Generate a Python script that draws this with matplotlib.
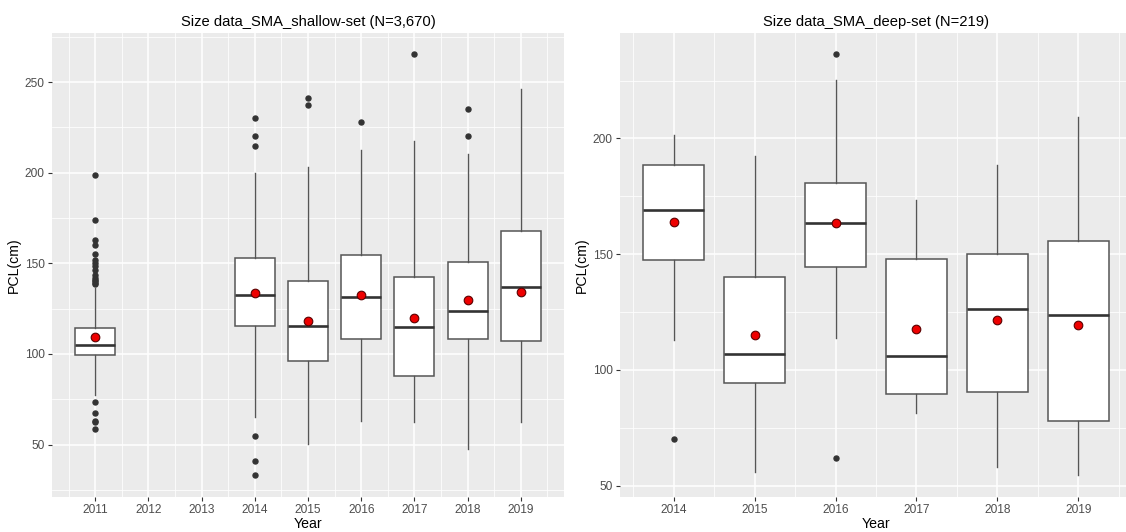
import matplotlib
matplotlib.use("Agg")
import matplotlib.pyplot as plt
from matplotlib.ticker import MultipleLocator, FixedLocator

plt.rcParams["font.family"] = ["Liberation Sans", "DejaVu Sans"]

# ---- shallow-set summary statistics (PCL, cm) ----
shallow_years = [2011, 2014, 2015, 2016, 2017, 2018, 2019]
shallow_q1 = [99.3, 115.2, 96.2, 108.3, 88.1, 108.3, 107.4]
shallow_med = [104.8, 132.6, 115.4, 131.7, 114.7, 123.6, 137.1]
shallow_q3 = [114.3, 153.0, 140.3, 154.5, 142.3, 150.7, 167.8]
shallow_lo = [77.6, 65.5, 50.4, 63.3, 62.3, 47.4, 62.3]
shallow_hi = [136.5, 200.1, 203.3, 212.4, 217.3, 210.4, 246.3]
shallow_mean = [109.2, 133.9, 118.2, 132.8, 119.7, 129.8, 134.3]
shallow_out = [
    [199, 174, 163, 160, 155, 152, 150.4, 148.6, 146.4, 143.5, 142, 141, 140, 139, 138.5,
     73.4, 67.4, 63.3, 62.4, 58.4],
    [230.2, 220.1, 215.0, 55.0, 41.0, 33.0],
    [241.2, 237.3],
    [228.1],
    [265.3],
    [235.2, 220.1],
    [],
]
shallow_ticks = [2011, 2012, 2013, 2014, 2015, 2016, 2017, 2018, 2019]

# ---- deep-set summary statistics (PCL, cm) ----
deep_years = [2014, 2015, 2016, 2017, 2018, 2019]
deep_q1 = [147.4, 94.2, 144.5, 89.6, 90.4, 78.1]
deep_med = [169.1, 107.0, 163.4, 106.0, 126.3, 123.7]
deep_q3 = [188.6, 140.2, 180.7, 147.7, 150.1, 155.6]
deep_lo = [112.7, 55.7, 113.6, 81.5, 58.2, 54.4]
deep_hi = [201.3, 192.2, 225.2, 173.5, 188.4, 209.2]
deep_mean = [163.8, 115.0, 163.5, 117.8, 121.5, 119.4]
deep_out = [[70.2], [], [236.3, 62.0], [], [], []]
deep_ticks = [2014, 2015, 2016, 2017, 2018, 2019]

BOX_W = 0.75
PANEL_BG = "#EBEBEB"
TEXT_GREY = "#4D4D4D"
LINE_GREY = "#333333"


def draw_panel(ax, title, years, q1, med, q3, lo, hi, mean, out, ticks):
    stats = []
    for i in range(len(years)):
        stats.append(dict(q1=q1[i], med=med[i], q3=q3[i], whislo=lo[i], whishi=hi[i],
                          fliers=out[i]))
    ax.bxp(stats, positions=years, widths=BOX_W, patch_artist=True, showcaps=False,
           boxprops=dict(facecolor="white", edgecolor="#555555", linewidth=1.1),
           medianprops=dict(color=LINE_GREY, linewidth=1.9),
           whiskerprops=dict(color="#555555", linewidth=1.0),
           flierprops=dict(marker="o", markerfacecolor=LINE_GREY, markeredgecolor=LINE_GREY,
                           markersize=3.6, linestyle="none"),
           zorder=3)
    ax.plot(years, mean, linestyle="none", marker="o", markersize=6.2,
            markerfacecolor="#EE0000", markeredgecolor="#5A0000", markeredgewidth=0.8,
            zorder=5)

    # ggplot-style continuous scale expansion (5%)
    xlo, xhi = min(years) - BOX_W / 2, max(years) + BOX_W / 2
    xpad = 0.05 * (xhi - xlo)
    ax.set_xlim(xlo - xpad, xhi + xpad)
    vals = lo + hi + [v for o in out for v in o]
    ylo, yhi = min(vals), max(vals)
    ypad = 0.05 * (yhi - ylo)
    ax.set_ylim(ylo - ypad, yhi + ypad)

    ax.set_facecolor(PANEL_BG)
    for s in ax.spines.values():
        s.set_visible(False)
    ax.xaxis.set_major_locator(FixedLocator(ticks))
    ax.set_xticklabels([str(t) for t in ticks])
    ax.xaxis.set_minor_locator(MultipleLocator(0.5))
    ax.yaxis.set_major_locator(MultipleLocator(50))
    ax.yaxis.set_minor_locator(MultipleLocator(25))
    ax.grid(which="major", color="white", linewidth=1.1)
    ax.grid(which="minor", color="white", linewidth=0.55)
    ax.set_axisbelow(True)
    ax.tick_params(which="major", length=3.2, width=0.8, color=LINE_GREY,
                   labelsize=8.6, labelcolor=TEXT_GREY, pad=2)
    ax.tick_params(which="minor", length=0)
    ax.set_title(title, fontsize=10.6, color="black", pad=5.5)
    ax.set_xlabel("Year", fontsize=10.2, color="black", labelpad=1)
    ax.set_ylabel("PCL(cm)", fontsize=10.2, color="black", labelpad=3)


W, H = 1126, 532
fig = plt.figure(figsize=(W / 100, H / 100), dpi=100)
top, bottom = 33.3, 496.5
ax1 = fig.add_axes([52 / W, (H - bottom) / H, (564 - 52) / W, (bottom - top) / H])
ax2 = fig.add_axes([620 / W, (H - bottom) / H, (1132 - 620) / W, (bottom - top) / H])

draw_panel(ax1, "Size data_SMA_shallow-set (N=3,670)", shallow_years, shallow_q1, shallow_med,
           shallow_q3, shallow_lo, shallow_hi, shallow_mean, shallow_out, shallow_ticks)
draw_panel(ax2, "Size data_SMA_deep-set (N=219)", deep_years, deep_q1, deep_med,
           deep_q3, deep_lo, deep_hi, deep_mean, deep_out, deep_ticks)

fig.savefig("out.png", dpi=100, facecolor="white")
